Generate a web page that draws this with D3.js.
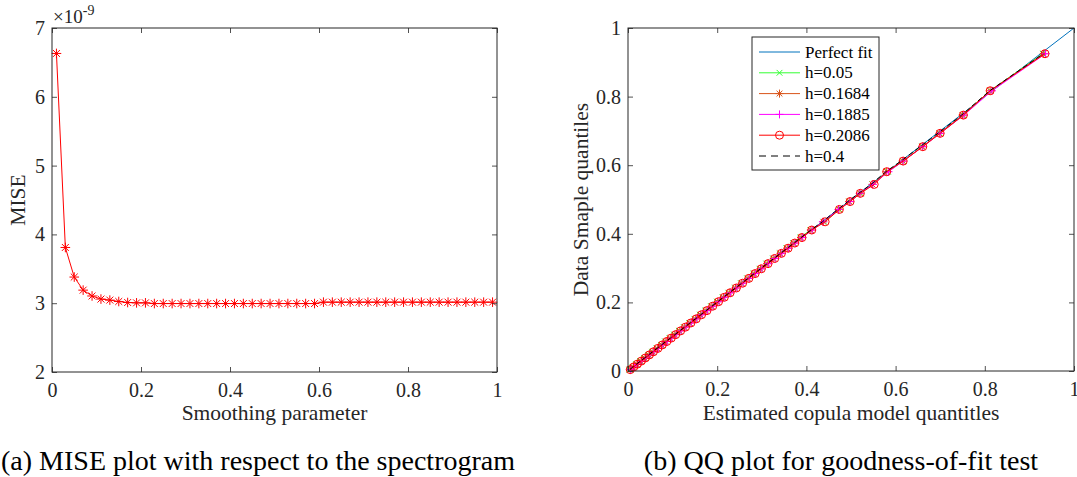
<!DOCTYPE html>
<html lang="en">
<head>
  <meta charset="utf-8">
  <title>MISE and QQ plots</title>
  <script src="https://d3js.org/d3.v7.min.js"></script>
  <style>
    body { margin: 0; background: #fff; }
    text { font-family: "Liberation Serif", "Times New Roman", serif; }
  </style>
</head>
<body>
<div id="chart"></div>
<script>
// ---- data ----
// left: MISE (x 1e-9) against smoothing parameter
const smoothing = [0.01,0.03,0.05,0.07,0.09,0.11,0.13,0.15,0.17,0.19,
                   0.21,0.23,0.25,0.27,0.29,0.31,0.33,0.35,0.37,0.39,
                   0.41,0.43,0.45,0.47,0.49,0.51,0.53,0.55,0.57,0.59,
                   0.61,0.63,0.65,0.67,0.69,0.71,0.73,0.75,0.77,0.79,
                   0.81,0.83,0.85,0.87,0.89,0.91,0.93,0.95,0.97,0.99];
const mise = [6.63,3.81,3.38,3.19,3.105,3.06,3.045,3.025,3.01,3.005,
              3.005,2.995,2.995,2.995,2.995,2.995,2.995,2.995,2.995,2.995,
              2.995,2.995,2.995,2.995,2.995,2.995,2.995,2.995,2.995,2.995,
              3.015,3.015,3.015,3.015,3.015,3.015,3.015,3.015,3.015,3.015,
              3.015,3.015,3.015,3.015,3.015,3.015,3.015,3.015,3.015,3.015];
const miseTicksX = [0, 0.2, 0.4, 0.6, 0.8, 1];
const miseTicksY = [2, 3, 4, 5, 6, 7];

// right: QQ plot, data sample quantiles (shared) vs estimated model quantiles
const sampleQ = [0.004,0.012,0.020,0.029,0.038,0.047,0.056,0.066,0.076,0.086,
                 0.096,0.106,0.117,0.128,0.140,0.152,0.164,0.176,0.189,0.202,
                 0.215,0.228,0.242,0.256,0.270,0.284,0.298,0.313,0.328,0.343,
                 0.358,0.373,0.389,0.411,0.435,0.471,0.494,0.518,0.544,0.581,
                 0.612,0.654,0.693,0.746,0.817,0.925];
const modelQ005 = [0.003,0.010,0.018,0.027,0.036,0.045,0.054,0.064,0.074,0.083,
                   0.093,0.103,0.114,0.125,0.137,0.149,0.161,0.173,0.186,0.199,
                   0.212,0.225,0.239,0.253,0.267,0.281,0.295,0.310,0.325,0.340,
                   0.355,0.370,0.386,0.409,0.440,0.474,0.496,0.522,0.548,0.583,
                   0.617,0.659,0.699,0.752,0.812,0.930];
const modelQ01684 = [0.005,0.012,0.020,0.029,0.038,0.047,0.056,0.066,0.076,0.085,
                     0.095,0.105,0.116,0.127,0.139,0.151,0.163,0.175,0.188,0.201,
                     0.214,0.227,0.241,0.255,0.269,0.283,0.297,0.312,0.327,0.342,
                     0.357,0.372,0.388,0.410,0.438,0.473,0.496,0.520,0.548,0.580,
                     0.616,0.660,0.698,0.750,0.812,0.932];
const modelQ01885 = [0.006,0.014,0.022,0.031,0.040,0.049,0.058,0.068,0.078,0.088,
                     0.098,0.108,0.119,0.130,0.142,0.154,0.166,0.178,0.191,0.204,
                     0.217,0.230,0.244,0.258,0.272,0.286,0.300,0.315,0.330,0.345,
                     0.360,0.375,0.391,0.413,0.437,0.472,0.498,0.520,0.549,0.584,
                     0.617,0.661,0.700,0.753,0.816,0.936];
const modelQ02086 = [0.005,0.013,0.021,0.030,0.039,0.048,0.057,0.067,0.077,0.087,
                     0.097,0.107,0.118,0.129,0.141,0.153,0.165,0.177,0.190,0.203,
                     0.216,0.229,0.243,0.257,0.271,0.285,0.299,0.314,0.329,0.344,
                     0.359,0.374,0.390,0.412,0.442,0.474,0.498,0.521,0.552,0.580,
                     0.617,0.661,0.700,0.752,0.812,0.935];
const modelQ04 = [0.004,0.011,0.019,0.028,0.037,0.046,0.055,0.065,0.075,0.085,
                  0.095,0.105,0.116,0.127,0.139,0.151,0.163,0.175,0.188,0.201,
                  0.214,0.227,0.241,0.255,0.269,0.283,0.297,0.312,0.327,0.342,
                  0.357,0.372,0.388,0.410,0.436,0.470,0.493,0.517,0.545,0.578,
                  0.612,0.655,0.695,0.748,0.811,0.931];
const perfectFit = [0, 1];
const qqTicks = [0, 0.2, 0.4, 0.6, 0.8, 1];
const seriesNames = ["Perfect fit", "h=0.05", "h=0.1684", "h=0.1885", "h=0.2086", "h=0.4"];

// ---- drawing ----
const axisColor = "#262626";
const svg = d3.select("#chart").append("svg")
    .attr("width", 1077)
    .attr("height", 477);

// marker shapes like matlab's
function markerPath(type, r) {
    const p = d3.path();
    const d = r * 0.72;
    if (type === "star" || type === "plus") {
        p.moveTo(-r, 0); p.lineTo(r, 0);
        p.moveTo(0, -r); p.lineTo(0, r);
    }
    if (type === "star" || type === "x") {
        p.moveTo(-d, -d); p.lineTo(d, d);
        p.moveTo(-d, d); p.lineTo(d, -d);
    }
    if (type === "circle") {
        p.moveTo(r, 0);
        p.arc(0, 0, r, 0, 2 * Math.PI);
    }
    return p.toString();
}

// draws a boxed matlab-style axes with inward ticks on all four sides
function drawFrame(x, y, xTicks, yTicks, fmt) {
    const [x0, x1] = x.range();
    const [y0, y1] = y.range();
    const g = svg.append("g");
    const style = sel => {
        sel.select(".domain").remove();
        sel.selectAll("line").attr("stroke", axisColor).attr("stroke-width", 0.8);
        sel.selectAll("text")
            .attr("fill", axisColor)
            .style("font-size", "20px")
            .style("font-family", "'Liberation Serif', serif");
    };
    g.append("g")
        .attr("transform", `translate(0,${y0})`)
        .call(d3.axisBottom(x).tickValues(xTicks).tickFormat(fmt).tickSizeInner(-5).tickSizeOuter(0).tickPadding(11))
        .call(style);
    g.append("g")
        .attr("transform", `translate(0,${y1})`)
        .call(d3.axisTop(x).tickValues(xTicks).tickFormat("").tickSizeInner(-5).tickSizeOuter(0))
        .call(style);
    g.append("g")
        .attr("transform", `translate(${x0},0)`)
        .call(d3.axisLeft(y).tickValues(yTicks).tickFormat(fmt).tickSizeInner(-5).tickSizeOuter(0).tickPadding(7))
        .call(style);
    g.append("g")
        .attr("transform", `translate(${x1},0)`)
        .call(d3.axisRight(y).tickValues(yTicks).tickFormat("").tickSizeInner(-5).tickSizeOuter(0))
        .call(style);
    g.append("rect")
        .attr("x", x0).attr("y", y1)
        .attr("width", x1 - x0).attr("height", y0 - y1)
        .attr("fill", "none")
        .attr("stroke", axisColor)
        .attr("stroke-width", 1);
}

const fmt = d => d3.format("~g")(d);

// ===== left panel: MISE =====
const xL = d3.scaleLinear().domain([0, 1]).range([52, 497]);
const yL = d3.scaleLinear().domain([2, 7]).range([372, 28]);
const miseData = smoothing.map((s, i) => ({x: s, y: mise[i]}));

svg.append("path")
    .datum(miseData)
    .attr("d", d3.line().x(d => xL(d.x)).y(d => yL(d.y)))
    .attr("fill", "none")
    .attr("stroke", "#ff0000")
    .attr("stroke-width", 1);

svg.append("g").selectAll("path")
    .data(miseData)
    .join("path")
    .attr("transform", d => `translate(${xL(d.x)},${yL(d.y)})`)
    .attr("d", markerPath("star", 4.8))
    .attr("fill", "none")
    .attr("stroke", "#ff0000")
    .attr("stroke-width", 1);

drawFrame(xL, yL, miseTicksX, miseTicksY, fmt);

// exponent label
const expo = svg.append("text")
    .attr("x", 53).attr("y", 23)
    .attr("fill", axisColor)
    .style("font-size", "19px");
expo.append("tspan").text("\u00d710");
expo.append("tspan").attr("dy", -8).style("font-size", "14px").text("-9");

svg.append("text")
    .attr("text-anchor", "middle")
    .attr("transform", `translate(25,${(28 + 372) / 2}) rotate(-90)`)
    .attr("fill", axisColor)
    .style("font-size", "21.5px")
    .text("MISE");

svg.append("text")
    .attr("text-anchor", "middle")
    .attr("x", (52 + 497) / 2).attr("y", 420)
    .attr("fill", axisColor)
    .style("font-size", "21.5px")
    .text("Smoothing parameter");

// ===== right panel: QQ plot =====
const xR = d3.scaleLinear().domain([0, 1]).range([628, 1074]);
const yR = d3.scaleLinear().domain([0, 1]).range([371, 28]);

const qqSeries = [
    {name: seriesNames[1], color: "#33ff33", marker: "x", dash: null, model: modelQ005},
    {name: seriesNames[2], color: "#d95319", marker: "star", dash: null, model: modelQ01684},
    {name: seriesNames[3], color: "#ff00ff", marker: "plus", dash: null, model: modelQ01885},
    {name: seriesNames[4], color: "#ff0000", marker: "circle", dash: null, model: modelQ02086},
    {name: seriesNames[5], color: "#000000", marker: null, dash: "5,3", model: modelQ04}
];

// perfect fit line
svg.append("path")
    .datum(perfectFit)
    .attr("d", d3.line().x(d => xR(d)).y(d => yR(d)))
    .attr("stroke", "#0072bd")
    .attr("stroke-width", 1)
    .attr("fill", "none");

qqSeries.forEach(s => {
    const pts = s.model.map((m, i) => ({x: m, y: sampleQ[i]}));
    svg.append("path")
        .datum(pts)
        .attr("d", d3.line().x(d => xR(d.x)).y(d => yR(d.y)))
        .attr("fill", "none")
        .attr("stroke", s.color)
        .attr("stroke-width", 1)
        .attr("stroke-dasharray", s.dash);
    if (s.marker) {
        svg.append("g").selectAll("path")
            .data(pts)
            .join("path")
            .attr("transform", d => `translate(${xR(d.x)},${yR(d.y)})`)
            .attr("d", markerPath(s.marker, 4))
            .attr("fill", "none")
            .attr("stroke", s.color)
            .attr("stroke-width", 1);
    }
});

drawFrame(xR, yR, qqTicks, qqTicks, fmt);

svg.append("text")
    .attr("text-anchor", "middle")
    .attr("transform", `translate(588,${(28 + 371) / 2}) rotate(-90)`)
    .attr("fill", axisColor)
    .style("font-size", "21.5px")
    .text("Data Smaple quantiles");

svg.append("text")
    .attr("text-anchor", "middle")
    .attr("x", (628 + 1074) / 2).attr("y", 420)
    .attr("fill", axisColor)
    .style("font-size", "21.5px")
    .text("Estimated copula model quantitles");

// legend
const legend = svg.append("g");
legend.append("rect")
    .attr("x", 752).attr("y", 37)
    .attr("width", 127).attr("height", 133)
    .attr("fill", "#fff")
    .attr("stroke", axisColor)
    .attr("stroke-width", 1);
const legendItems = [{name: seriesNames[0], color: "#0072bd", marker: null, dash: null}].concat(qqSeries);
legendItems.forEach((s, i) => {
    const ly = 52 + i * 20.8;
    legend.append("line")
        .attr("x1", 759).attr("x2", 800)
        .attr("y1", ly).attr("y2", ly)
        .attr("stroke", s.color)
        .attr("stroke-width", 1)
        .attr("stroke-dasharray", s.dash ? "7,5" : null);
    if (s.marker) {
        legend.append("path")
            .attr("transform", `translate(779.5,${ly})`)
            .attr("d", markerPath(s.marker, 4))
            .attr("fill", "none")
            .attr("stroke", s.color)
            .attr("stroke-width", 1);
    }
    legend.append("text")
        .attr("x", 805).attr("y", ly + 5.5)
        .attr("fill", "#000")
        .style("font-size", "17px")
        .text(s.name);
});

// captions
svg.append("text")
    .attr("text-anchor", "middle")
    .attr("x", 258).attr("y", 470)
    .attr("fill", "#000")
    .style("font-size", "28px")
    .text("(a) MISE plot with respect to the spectrogram");

svg.append("text")
    .attr("text-anchor", "middle")
    .attr("x", 841).attr("y", 470)
    .attr("fill", "#000")
    .style("font-size", "28px")
    .text("(b) QQ plot for goodness-of-fit test");
</script>
</body>
</html>
